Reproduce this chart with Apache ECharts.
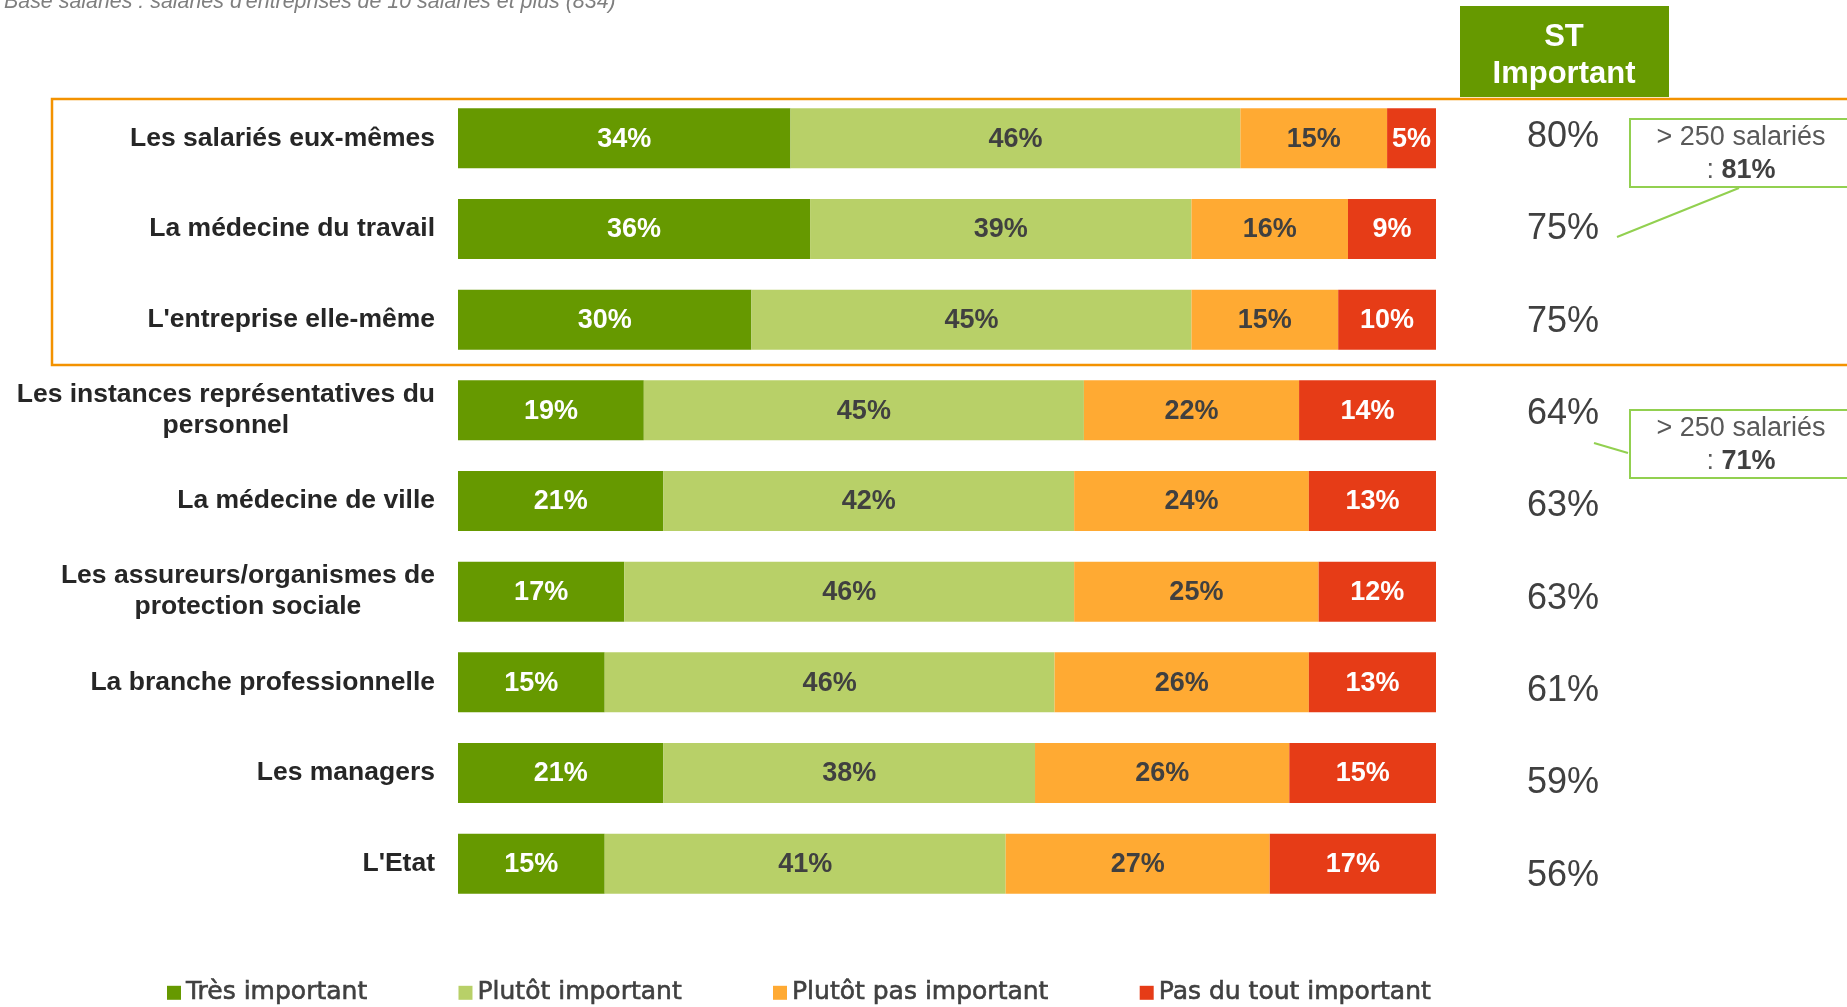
<!DOCTYPE html>
<html>
<head>
<meta charset="utf-8">
<script src="https://cdn.jsdelivr.net/npm/echarts/dist/echarts.min.js"></script>
<style>
  html, body { margin: 0; padding: 0; background: #fff; }
  #chart { width: 1847px; height: 1007px; }
</style>
</head>
<body>
<div id="chart"></div>
<script>
const categories = [
  'Les salariés eux-mêmes',
  'La médecine du travail',
  "L'entreprise elle-même",
  'Les instances représentatives du\npersonnel',
  'La médecine de ville',
  'Les assureurs/organismes de\nprotection sociale',
  'La branche professionnelle',
  'Les managers',
  "L'Etat"
];
const tresImportant = [34, 36, 30, 19, 21, 17, 15, 21, 15];
const plutotImportant = [46, 39, 45, 45, 42, 46, 46, 38, 41];
const plutotPasImportant = [15, 16, 15, 22, 24, 25, 26, 26, 27];
const pasDuToutImportant = [5, 9, 10, 14, 13, 12, 13, 15, 17];
const stImportant = [80, 75, 75, 64, 63, 63, 61, 59, 56];
const seriesNames = ['Très important', 'Plutôt important', 'Plutôt pas important', 'Pas du tout important'];
const colors = ['#669900', '#B8D068', '#FFAA33', '#E63C17'];
const labelColors = ['#ffffff', '#404040', '#404040', '#ffffff'];
const subtitle = 'Base salariés : salariés d\'entreprises de 10 salariés et plus (834)';
const notes = ['81%', '71%'];

const font = 'Liberation Sans, Arial, sans-serif';
const chart = echarts.init(document.getElementById('chart'), null, { renderer: 'canvas' });

const values = [tresImportant, plutotImportant, plutotPasImportant, pasDuToutImportant];
const barSeries = values.map((data, i) => ({
  name: seriesNames[i],
  type: 'bar',
  stack: 'total',
  barWidth: 60,
  data: data,
  itemStyle: { color: colors[i] },
  label: {
    show: true,
    position: 'inside',
    offset: [0, 1],
    formatter: '{c}%',
    fontFamily: font,
    fontSize: 27,
    fontWeight: 'bold',
    color: labelColors[i]
  }
}));

// annotation box: rectangle + leader line + text
function note(boxY, lineFrom, lineTo, value) {
  return [
    {
      type: 'line',
      shape: { x1: lineFrom[0], y1: lineFrom[1], x2: lineTo[0], y2: lineTo[1] },
      style: { stroke: '#92D050', lineWidth: 2 }
    },
    {
      type: 'rect',
      shape: { x: 1630, y: boxY, width: 260, height: 68 },
      style: { fill: '#fff', stroke: '#92D050', lineWidth: 2 }
    },
    {
      type: 'text',
      x: 1741,
      y: boxY + 35,
      style: {
        text: '{a|> 250 salariés}\n{a|: }{b|' + value + '}',
        align: 'center',
        verticalAlign: 'middle',
        rich: {
          a: { align: 'center', fontFamily: font, fontSize: 27, fill: '#595959', lineHeight: 33 },
          b: { align: 'center', fontFamily: font, fontSize: 27, fontWeight: 'bold', fill: '#404040', lineHeight: 33 }
        }
      }
    }
  ];
}

chart.setOption({
  animation: false,
  color: colors,
  grid: [
    { left: 458, width: 978, top: 93, height: 816 },
    { left: 1513, width: 100, top: 91, height: 831 }
  ],
  xAxis: [
    { type: 'value', gridIndex: 0, min: 0, max: 100, show: false },
    { type: 'value', gridIndex: 1, min: -1, max: 1, show: false }
  ],
  yAxis: [
    {
      type: 'category',
      gridIndex: 0,
      inverse: true,
      data: categories,
      axisLine: { show: false },
      axisTick: { show: false },
      axisLabel: {
        margin: 23,
        fontFamily: font,
        fontSize: 26.5,
        fontWeight: 'bold',
        color: '#262626',
        formatter: (v) => v.includes('\n')
          ? v.split('\n').map((l) => '{c|' + l + '}').join('\n')
          : v,
        rich: {
          c: { align: 'center', fontFamily: font, fontSize: 26.5, fontWeight: 'bold', color: '#262626', lineHeight: 31 }
        }
      }
    },
    { type: 'category', gridIndex: 1, inverse: true, data: categories, show: false }
  ],
  legend: {
    data: seriesNames,
    left: 167,
    top: 980,
    padding: 0,
    icon: 'rect',
    itemWidth: 14,
    itemHeight: 14,
    itemGap: 91,
    textStyle: {
      fontFamily: 'DejaVu Sans, sans-serif',
      fontSize: 25,
      color: '#404040',
      textBorderColor: '#404040',
      textBorderWidth: 0.6
    }
  },
  series: barSeries.concat([{
    type: 'scatter',
    xAxisIndex: 1,
    yAxisIndex: 1,
    symbolSize: 0,
    itemStyle: { opacity: 1 },
    data: stImportant.map((v, i) => [0, i, v]),
    label: {
      show: true,
      position: 'inside',
      opacity: 1,
      formatter: (p) => p.value[2] + '%',
      fontFamily: font,
      fontSize: 36,
      color: '#404040'
    }
  }]),
  graphic: [
    {
      type: 'text',
      x: 4,
      y: 2,
      style: {
        text: subtitle,
        fontFamily: font,
        fontSize: 21.4,
        fontStyle: 'italic',
        fill: '#7F7F7F',
        verticalAlign: 'middle'
      }
    },
    {
      type: 'rect',
      shape: { x: 52, y: 99, width: 1900, height: 266 },
      style: { fill: 'none', stroke: '#F39200', lineWidth: 2.5 }
    },
    {
      type: 'rect',
      shape: { x: 1460, y: 6, width: 209, height: 91 },
      style: { fill: '#669900' }
    },
    {
      type: 'text',
      x: 1564,
      y: 56,
      style: {
        text: 'ST\nImportant',
        align: 'center',
        verticalAlign: 'middle',
        fontFamily: font,
        fontSize: 31,
        fontWeight: 'bold',
        lineHeight: 37,
        fill: '#ffffff'
      }
    }
  ].concat(
    note(119, [1739, 188], [1617, 237], notes[0]),
    note(410, [1628, 453], [1594, 443], notes[1])
  )
});
</script>
</body>
</html>
